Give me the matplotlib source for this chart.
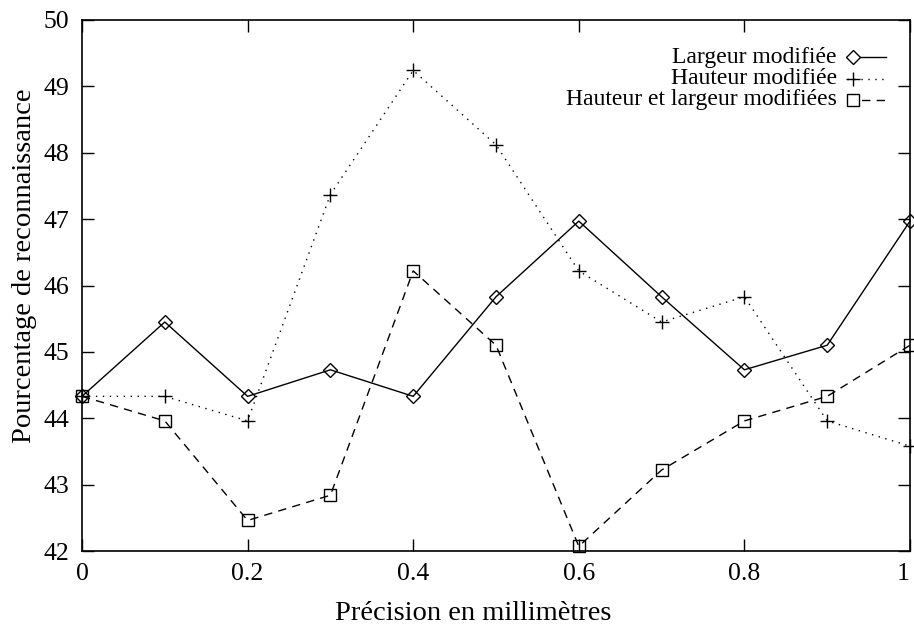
import matplotlib
matplotlib.use('Agg')
import matplotlib.pyplot as plt
from matplotlib.lines import Line2D

precision = [0.0, 0.1, 0.2, 0.3, 0.4, 0.5, 0.6, 0.7, 0.8, 0.9, 1.0]
largeur = [44.33, 45.45, 44.33, 44.73, 44.33, 45.83, 46.97, 45.83, 44.73, 45.10, 46.97]
hauteur = [44.33, 44.33, 43.96, 47.37, 49.24, 48.12, 46.22, 45.45, 45.83, 43.96, 43.58]
hauteur_largeur = [44.33, 43.96, 42.46, 42.84, 46.22, 45.10, 42.07, 43.22, 43.96, 44.33, 45.10]
labels = ['Largeur modifiée', 'Hauteur modifiée', 'Hauteur et largeur modifiées']
x_ticks = [0, 0.2, 0.4, 0.6, 0.8, 1]
x_tick_labels = ['0', '0.2', '0.4', '0.6', '0.8', '1']
y_ticks = [42, 43, 44, 45, 46, 47, 48, 49, 50]

plt.rcParams['font.family'] = ['Liberation Serif', 'DejaVu Serif']
plt.rcParams['font.size'] = 17


def main():
    fig = plt.figure(figsize=(9.14, 6.33), dpi=100)
    ax = fig.add_axes([82 / 914, 1 - 551 / 633, 828 / 914, 531 / 633])

    styles = [
        dict(linestyle='-', marker='D', markersize=7),
        dict(linestyle=(0, (1, 4)), marker='+', markersize=10),
        dict(linestyle=(0, (6, 4.5)), marker='s', markersize=8),
    ]
    series = [largeur, hauteur, hauteur_largeur]
    for values, st in zip(series, styles):
        ax.plot(precision, values, color='black', linewidth=1.0,
                markerfacecolor='none', markeredgewidth=1.0, clip_on=False, **st)

    ax.set_xlim(0, 1)
    ax.set_ylim(42, 50)
    ax.set_xticks(x_ticks)
    ax.set_xticklabels(x_tick_labels)
    ax.set_yticks(y_ticks)
    ax.tick_params(direction='in', length=8.5, width=1, top=True, right=True,
                   pad=9, labelsize=18.5)
    ax.get_xticklabels()[-1].set_horizontalalignment('right')
    for sp in ax.spines.values():
        sp.set_linewidth(1.2)
    ax.set_xlabel('Précision en millimètres', fontsize=20.5, va='center')
    ax.set_ylabel('Pourcentage de reconnaissance', fontsize=20.5, va='center')
    ax.xaxis.set_label_coords((473 - 82) / 828, -(613 - 551) / 531)
    ax.yaxis.set_label_coords(-(82 - 25) / 828, 1 - (266 - 20) / 531)

    # legend in gnuplot style: right-aligned text, sample to the right
    rows = [1 - 37 / 531, 1 - 59 / 531, 1 - 80 / 531]
    x_text = (837 - 82) / 828
    x0, x1 = (847 - 82) / 828, (886 - 82) / 828
    xm = (853 - 82) / 828
    for lab, st, y in zip(labels, styles, rows):
        ax.text(x_text, y, lab, transform=ax.transAxes, ha='right', va='center')
        ax.add_line(Line2D([x0, x1], [y, y], transform=ax.transAxes, color='black',
                           linewidth=1.0, linestyle=st['linestyle'], clip_on=False))
        ax.add_line(Line2D([xm], [y], transform=ax.transAxes, color='black',
                           marker=st['marker'], markersize=st['markersize'],
                           markerfacecolor='white', markeredgewidth=1.0, clip_on=False))

    fig.savefig('out.png', dpi=100)


if __name__ == '__main__':
    main()
